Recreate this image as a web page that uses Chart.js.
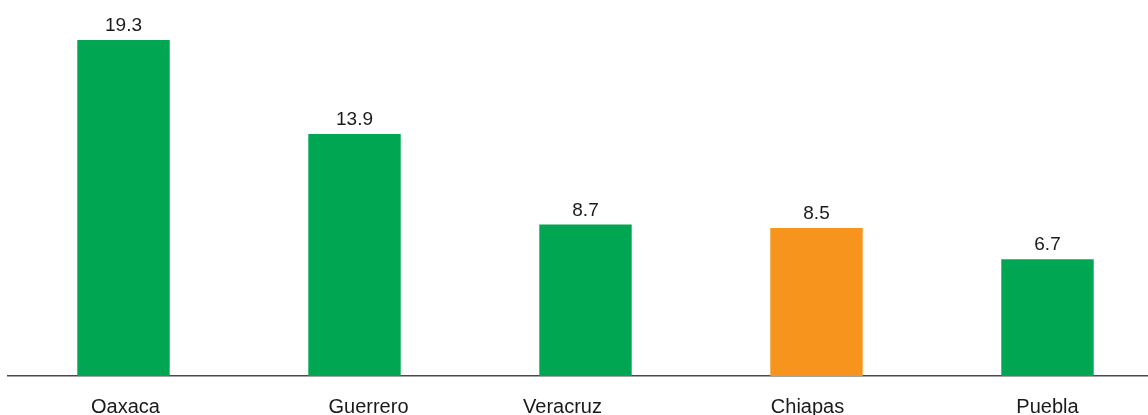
<!DOCTYPE html>
<html>
<head>
<meta charset="utf-8">
<script src="https://cdn.jsdelivr.net/npm/chart.js@4/dist/chart.umd.min.js"></script>
<style>
  html, body { margin: 0; padding: 0; background: #ffffff; overflow: hidden; }
  #wrap { width: 1163px; height: 415px; position: relative; }
</style>
</head>
<body>
<div id="wrap"><canvas id="c"></canvas></div>
<script>
const categories = ["Oaxaca", "Guerrero", "Veracruz", "Chiapas", "Puebla"];
const values = [19.3, 13.9, 8.7, 8.5, 6.7];
const highlighted = [false, false, false, true, false];

const GREEN = "#00a651";
const ORANGE = "#f7941d";
const TEXT = "#1a1a1a";
const FONT = "'Liberation Sans', Arial, Helvetica, sans-serif";

const labelPlugin = {
  id: "customLabels",
  afterDatasetsDraw(chart, args, opts) {
    const ctx = chart.ctx;
    const meta = chart.getDatasetMeta(0);
    ctx.save();
    ctx.fillStyle = TEXT;
    ctx.textAlign = "center";
    ctx.textBaseline = "alphabetic";
    ctx.font = "19px " + FONT;
    meta.data.forEach((bar, i) => {
      ctx.fillText(values[i].toFixed(1), bar.x, bar.y - 9);
    });
    const xs = chart.scales.x;
    ctx.font = "20px " + FONT;
    categories.forEach((c, i) => {
      const x = xs.getPixelForValue(i) + (opts.offsets[i] || 0);
      ctx.fillText(c, x, chart.chartArea.bottom + 37);
    });
    ctx.restore();
  }
};

new Chart(document.getElementById("c"), {
  type: "bar",
  data: {
    labels: categories,
    datasets: [{
      data: values,
      backgroundColor: highlighted.map(h => h ? ORANGE : GREEN),
      borderWidth: 0,
      barPercentage: 0.4,
      categoryPercentage: 1.0
    }]
  },
  options: {
    responsive: true,
    maintainAspectRatio: false,
    animation: false,
    layout: { padding: { left: 8, right: 0, top: 0, bottom: 31 } },
    plugins: {
      legend: { display: false },
      tooltip: { enabled: false },
      customLabels: { offsets: [2, 14, -23, -9, 0] }
    },
    scales: {
      x: {
        grid: { display: false },
        border: { display: true, color: "#4a4a4a", width: 1.5 },
        ticks: { display: false }
      },
      y: {
        display: false,
        min: 0,
        max: 21.6
      }
    }
  },
  plugins: [labelPlugin]
});
</script>
</body>
</html>
